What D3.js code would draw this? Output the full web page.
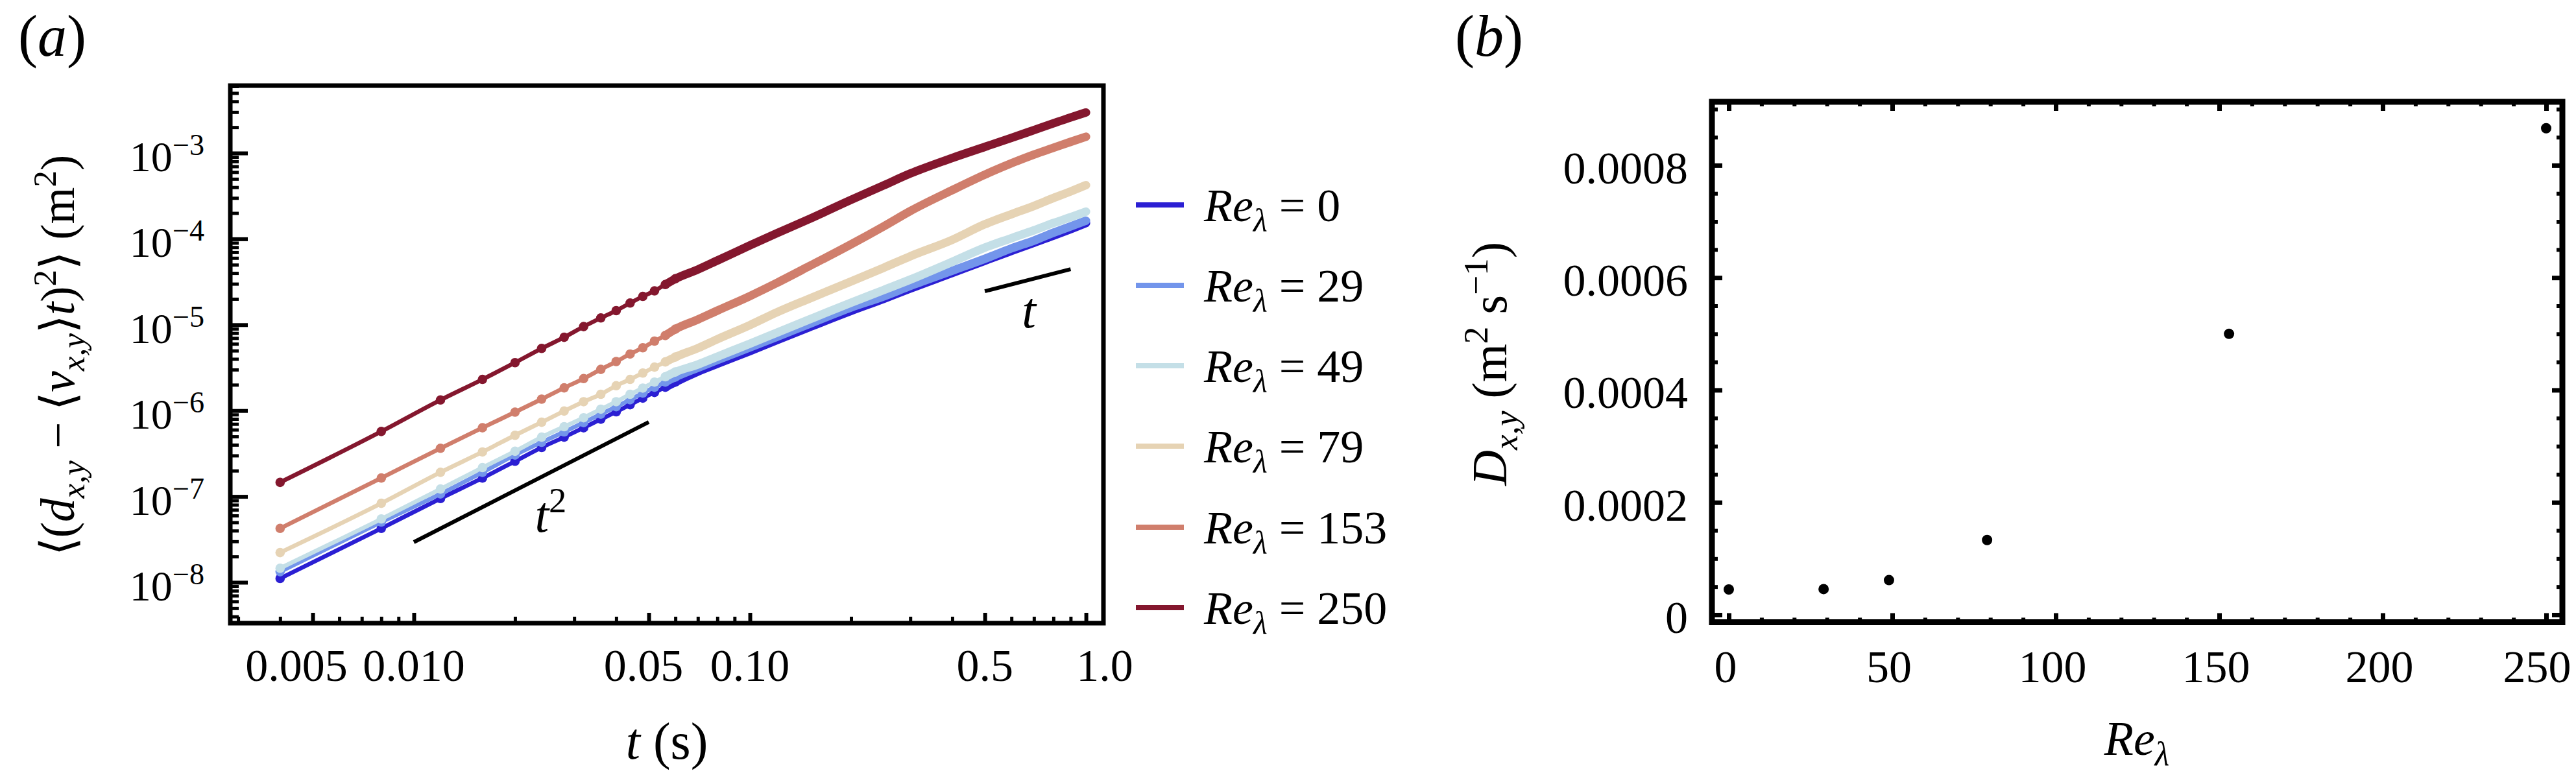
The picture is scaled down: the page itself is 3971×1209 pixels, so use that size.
<!DOCTYPE html>
<meta charset="utf-8">
<script src="https://d3js.org/d3.v7.min.js"></script>
<style>
  body { margin: 0; background: #fff; }
  text { font-family: "Liberation Serif", "Times New Roman", serif; fill: #000; }
</style>
<div id="viz"></div>
<script>

// ---------- data ----------
// sampling times (s)
const times = [0.004, 0.008, 0.012, 0.016, 0.020, 0.024, 0.028, 0.032, 0.036, 0.040,
               0.044, 0.048, 0.052, 0.056, 0.060,
               0.07, 0.08, 0.10, 0.12, 0.15, 0.20, 0.25, 0.30, 0.40, 0.50,
               0.60, 0.70, 0.80, 0.90, 1.00];

// <(d - <v>t)^2> in m^2, one array per Re_lambda
const msdRe0   = [1.11e-8, 4.25e-8, 9.46e-8, 1.64e-7, 2.57e-7, 3.72e-7, 4.91e-7, 6.31e-7, 7.94e-7, 9.69e-7,
                  1.17e-6, 1.40e-6, 1.63e-6, 1.87e-6, 2.15e-6,
                  2.85e-6, 3.51e-6, 4.93e-6, 6.59e-6, 9.35e-6, 1.45e-5, 2.00e-5, 2.64e-5, 4.01e-5, 5.57e-5,
                  7.24e-5, 9.02e-5, 1.09e-4, 1.30e-4, 1.53e-4];
const msdRe29  = [1.33e-8, 5.04e-8, 1.07e-7, 1.91e-7, 3.04e-7, 4.28e-7, 5.65e-7, 7.25e-7, 9.10e-7, 1.11e-6,
                  1.34e-6, 1.60e-6, 1.87e-6, 2.15e-6, 2.46e-6,
                  3.15e-6, 3.88e-6, 5.45e-6, 7.21e-6, 1.02e-5, 1.59e-5, 2.14e-5, 2.83e-5, 4.26e-5, 5.86e-5,
                  7.76e-5, 9.55e-5, 1.18e-4, 1.40e-4, 1.63e-4];
const msdRe49  = [1.46e-8, 5.47e-8, 1.22e-7, 2.17e-7, 3.36e-7, 4.91e-7, 6.50e-7, 8.26e-7, 1.04e-6, 1.27e-6,
                  1.55e-6, 1.83e-6, 2.15e-6, 2.48e-6, 2.82e-6,
                  3.44e-6, 4.25e-6, 6.02e-6, 8.05e-6, 1.15e-5, 1.81e-5, 2.54e-5, 3.36e-5, 5.41e-5, 7.91e-5,
                  1.02e-4, 1.26e-4, 1.53e-4, 1.79e-4, 2.08e-4];
const msdRe79  = [2.22e-8, 8.32e-8, 1.91e-7, 3.30e-7, 5.16e-7, 7.32e-7, 9.89e-7, 1.27e-6, 1.55e-6, 1.95e-6,
                  2.31e-6, 2.74e-6, 3.21e-6, 3.69e-6, 4.21e-6,
                  5.34e-6, 6.79e-6, 9.91e-6, 1.39e-5, 2.01e-5, 3.19e-5, 4.61e-5, 6.28e-5, 9.75e-5, 1.48e-4,
                  1.94e-4, 2.42e-4, 2.99e-4, 3.57e-4, 4.23e-4];
const msdRe153 = [4.25e-8, 1.64e-7, 3.64e-7, 6.31e-7, 9.60e-7, 1.36e-6, 1.84e-6, 2.36e-6, 3.02e-6, 3.73e-6,
                  4.56e-6, 5.40e-6, 6.45e-6, 7.50e-6, 8.89e-6,
                  1.15e-5, 1.46e-5, 2.16e-5, 3.06e-5, 4.80e-5, 8.65e-5, 1.40e-4, 2.11e-4, 3.70e-4, 5.60e-4,
                  7.60e-4, 9.60e-4, 1.15e-3, 1.35e-3, 1.55e-3];
const msdRe250 = [1.46e-7, 5.71e-7, 1.33e-6, 2.31e-6, 3.62e-6, 5.30e-6, 7.14e-6, 9.52e-6, 1.20e-5, 1.46e-5,
                  1.79e-5, 2.14e-5, 2.48e-5, 2.94e-5, 3.43e-5,
                  4.40e-5, 5.60e-5, 8.40e-5, 1.16e-4, 1.70e-4, 2.85e-4, 4.20e-4, 5.77e-4, 8.77e-4, 1.18e-3,
                  1.50e-3, 1.85e-3, 2.22e-3, 2.60e-3, 2.97e-3];

const reValues = [0, 29, 49, 79, 153, 250];
const reColors = ["#2b1fd3", "#7395eb", "#c4dfe7", "#e6d3b4", "#d07e6c", "#84172e"];

// panel (b): dispersion coefficient D_xy (m^2 s^-1) against Re_lambda
const dispersion = [4.5e-5, 4.57e-5, 6.16e-5, 1.33e-4, 5.0e-4, 8.66e-4];

// reference slopes t^2 and t
const slope2T = [0.01, 0.05], slope2V = [2.94e-8, 7.35e-7];
const slope1T = [0.5, 0.9],   slope1V = [2.46e-5, 4.43e-5];

// ticks
const xTicksA = [0.005, 0.01, 0.05, 0.1, 0.5, 1];
const xTickLabelsA = ["0.005", "0.010", "0.05", "0.10", "0.5", "1.0"];
const yTicksA = [1e-8, 1e-7, 1e-6, 1e-5, 1e-4, 1e-3];
const xTicksB = [0, 50, 100, 150, 200, 250];
const yTicksB = [0, 0.0002, 0.0004, 0.0006, 0.0008];
const yTickLabelsB = ["0", "0.0002", "0.0004", "0.0006", "0.0008"];

// ---------- setup ----------
const W = 3971, H = 1209;
const svg = d3.select("#viz").append("svg")
    .attr("width", W).attr("height", H)
    .style("background", "#fff");

// writes a string with italic / sub / sup parts into a text element
function rich(text, parts, size) {
  let shift = 0;
  parts.forEach(p => {
    const target = p.sub ? size * 0.22 : p.sup ? -size * 0.38 : 0;
    text.append("tspan")
      .attr("dy", target - shift)
      .attr("font-size", (p.sub || p.sup) ? size * 0.7 : size)
      .attr("font-style", p.i ? "italic" : "normal")
      .text(p.s);
    shift = target;
  });
  return text;
}

function styleTicks(g, w) {
  g.select(".domain").remove();
  g.selectAll(".tick line").attr("stroke", "#000").attr("stroke-width", w);
}

// ================= panel (a) =================
const a = {left: 355, right: 1701, top: 132, bottom: 961};
const xA = d3.scaleLog().domain([0.002843, 1.127]).range([a.left, a.right]);
const yA = d3.scaleLog().domain([3.343e-9, 0.006102]).range([a.bottom, a.top]);

const yMinorA = [];
for (let e = -9; e <= -3; e++) for (let k = 2; k <= 9; k++) {
  const v = k * Math.pow(10, e);
  if (v > yA.domain()[0] && v < yA.domain()[1]) yMinorA.push(v);
}
const xMinorA = [];
for (let e = -3; e <= 0; e++) for (let k = 1; k <= 9; k++) {
  const v = +(k * Math.pow(10, e)).toPrecision(3);
  if (v > xA.domain()[0] && v < xA.domain()[1] && !xTicksA.some(m => Math.abs(m - v) < 1e-9)) xMinorA.push(v);
}

svg.append("g").attr("transform", `translate(${a.left},0)`)
  .call(d3.axisLeft(yA).tickValues(yMinorA).tickSize(-13).tickFormat(""))
  .call(g => styleTicks(g, 5));
svg.append("g").attr("transform", `translate(${a.left},0)`)
  .call(d3.axisLeft(yA).tickValues(yTicksA).tickSize(-27).tickFormat(""))
  .call(g => styleTicks(g, 6));
svg.append("g").attr("transform", `translate(0,${a.bottom})`)
  .call(d3.axisBottom(xA).tickValues(xMinorA).tickSize(-10).tickFormat(""))
  .call(g => styleTicks(g, 5));
svg.append("g").attr("transform", `translate(0,${a.bottom})`)
  .call(d3.axisBottom(xA).tickValues(xTicksA).tickSize(-16).tickFormat(""))
  .call(g => styleTicks(g, 6));

svg.append("rect")
  .attr("x", a.left).attr("y", a.top)
  .attr("width", a.right - a.left).attr("height", a.bottom - a.top)
  .attr("fill", "none").attr("stroke", "#000").attr("stroke-width", 7);

// y tick labels 10^n
yTicksA.forEach(v => {
  const t = svg.append("text")
    .attr("x", a.left - 40).attr("y", yA(v) + 28)
    .attr("text-anchor", "end");
  rich(t, [{s: "10"}, {s: "\u2212" + Math.round(-Math.log10(v)), sup: true}], 66);
});
// x tick labels (outer labels sit a little outward as in the original)
const xLabelShift = [-25, 0, -8, 0, 0, 29];
xTicksA.forEach((v, i) => {
  svg.append("text")
    .attr("x", xA(v) + xLabelShift[i]).attr("y", 1050)
    .attr("text-anchor", "middle").attr("font-size", 70)
    .text(xTickLabelsA[i]);
});

// curves
const series = [msdRe0, msdRe29, msdRe49, msdRe79, msdRe153, msdRe250].map((vals, i) => ({
  re: reValues[i], color: reColors[i],
  pts: times.map((t, j) => ({t: t, v: vals[j]}))
}));
const lineA = d3.line().x(d => xA(d.t)).y(d => yA(d.v)).curve(d3.curveMonotoneX);

const gCurves = svg.append("g");
series.forEach(s => {
  const g = gCurves.append("g");
  g.append("path").attr("d", lineA(s.pts))
    .attr("fill", "none").attr("stroke", s.color).attr("stroke-width", 6.5)
    .attr("stroke-linejoin", "round");
  // dense markers merge into a thick band at later times
  g.append("path").attr("d", lineA(s.pts.filter(d => d.t >= 0.056)))
    .attr("fill", "none").attr("stroke", s.color).attr("stroke-width", 13)
    .attr("stroke-linecap", "round").attr("stroke-linejoin", "round");
  g.selectAll("circle").data(s.pts.filter(d => d.t <= 0.06)).join("circle")
    .attr("cx", d => xA(d.t)).attr("cy", d => yA(d.v)).attr("r", 7.3)
    .attr("fill", s.color);
});

// reference slopes
const refLine = (ts, vs) => svg.append("path")
  .attr("d", d3.line().x(d => xA(d.t)).y(d => yA(d.v))(ts.map((t, i) => ({t: t, v: vs[i]}))))
  .attr("stroke", "#000").attr("stroke-width", 6).attr("fill", "none");
refLine(slope2T, slope2V);
refLine(slope1T, slope1V);
rich(svg.append("text").attr("x", xA(0.0229)).attr("y", yA(3.9e-8)),
  [{s: "t", i: true}, {s: "2", sup: true}], 78);
rich(svg.append("text").attr("x", xA(0.676)).attr("y", yA(9.29e-6)).attr("text-anchor", "middle"),
  [{s: "t", i: true}], 78);

// axis titles
rich(svg.append("text").attr("text-anchor", "middle")
    .attr("transform", "translate(114,548) rotate(-90)"),
  [{s: "\u27E8("}, {s: "d", i: true}, {s: "x,y", i: true, sub: true},
   {s: " \u2212 \u27E8"}, {s: "v", i: true}, {s: "x,y", i: true, sub: true},
   {s: "\u27E9"}, {s: "t", i: true}, {s: ")"}, {s: "2", sup: true},
   {s: "\u27E9 (m"}, {s: "2", sup: true}, {s: ")"}], 73);
rich(svg.append("text").attr("x", 1028).attr("y", 1170).attr("text-anchor", "middle"),
  [{s: "t", i: true}, {s: " (s)"}], 80);

// legend
const legY = [316, 440, 564, 688, 813, 937];
series.forEach((s, i) => {
  svg.append("line")
    .attr("x1", 1751).attr("x2", 1825).attr("y1", legY[i]).attr("y2", legY[i])
    .attr("stroke", s.color).attr("stroke-width", 8);
  rich(svg.append("text").attr("x", 1856).attr("y", legY[i] + 25),
    [{s: "Re", i: true}, {s: "\u03BB", i: true, sub: true}, {s: " = " + s.re}], 72);
});

// panel label
rich(svg.append("text").attr("x", 28).attr("y", 86),
  [{s: "("}, {s: "a", i: true}, {s: ")"}], 90);

// ================= panel (b) =================
const b = {left: 2639, right: 3950, top: 157, bottom: 959.5};
const xB = d3.scaleLinear().domain([-5.16, 254.96]).range([b.left, b.right]);
const yB = d3.scaleLinear().domain([-0.0000133, 0.000913]).range([b.bottom, b.top]);

const xMinorB = d3.range(0, 251, 10).filter(v => v % 50 !== 0);
const yMinorB = d3.range(0, 0.00091, 0.00005).filter((v, i) => i % 4 !== 0);

[[d3.axisBottom, b.bottom], [d3.axisTop, b.top]].forEach(([ax, pos]) => {
  svg.append("g").attr("transform", `translate(0,${pos})`)
    .call(ax(xB).tickValues(xMinorB).tickSize(-7).tickFormat(""))
    .call(g => styleTicks(g, 6));
  svg.append("g").attr("transform", `translate(0,${pos})`)
    .call(ax(xB).tickValues(xTicksB).tickSize(-14).tickFormat(""))
    .call(g => styleTicks(g, 7));
});
[[d3.axisLeft, b.left], [d3.axisRight, b.right]].forEach(([ax, pos]) => {
  svg.append("g").attr("transform", `translate(${pos},0)`)
    .call(ax(yB).tickValues(yMinorB).tickSize(-9).tickFormat(""))
    .call(g => styleTicks(g, 6));
  svg.append("g").attr("transform", `translate(${pos},0)`)
    .call(ax(yB).tickValues(yTicksB).tickSize(-16).tickFormat(""))
    .call(g => styleTicks(g, 7));
});

svg.append("rect")
  .attr("x", b.left).attr("y", b.top)
  .attr("width", b.right - b.left).attr("height", b.bottom - b.top)
  .attr("fill", "none").attr("stroke", "#000").attr("stroke-width", 9);

yTicksB.forEach((v, i) => {
  svg.append("text")
    .attr("x", b.left - 37).attr("y", yB(v) + 28)
    .attr("text-anchor", "end").attr("font-size", 70)
    .text(yTickLabelsB[i]);
});
xTicksB.forEach((v, i) => {
  svg.append("text")
    .attr("x", xB(v) - (i === xTicksB.length - 1 ? 14 : 5)).attr("y", 1052)
    .attr("text-anchor", "middle").attr("font-size", 70)
    .text(v);
});

svg.append("g").selectAll("circle")
  .data(reValues.map((r, i) => ({re: r, d: dispersion[i]})))
  .join("circle")
    .attr("cx", d => xB(d.re)).attr("cy", d => yB(d.d)).attr("r", 8)
    .attr("fill", "#000");

rich(svg.append("text").attr("x", 3294).attr("y", 1164).attr("text-anchor", "middle"),
  [{s: "Re", i: true}, {s: "\u03BB", i: true, sub: true}], 74);
rich(svg.append("text").attr("text-anchor", "middle")
    .attr("transform", "translate(2322,561) rotate(-90)"),
  [{s: "D", i: true}, {s: "x,y", i: true, sub: true}, {s: " (m"}, {s: "2", sup: true},
   {s: " s"}, {s: "\u22121", sup: true}, {s: ")"}], 76);

rich(svg.append("text").attr("x", 2243).attr("y", 86),
  [{s: "("}, {s: "b", i: true}, {s: ")"}], 90);

</script>
